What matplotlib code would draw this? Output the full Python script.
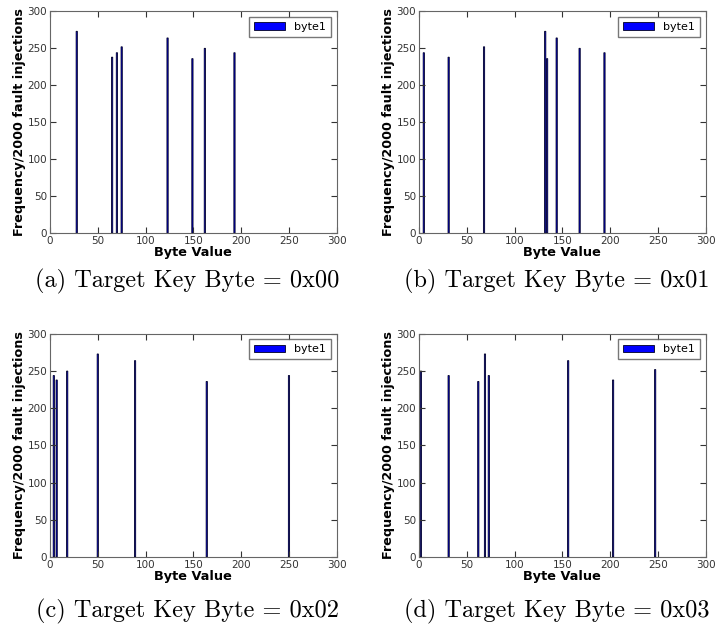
import matplotlib
matplotlib.use('Agg')
import matplotlib.pyplot as plt

# byte values and counts for each target key byte
a_x = [28, 65, 70, 75, 123, 149, 162, 193]
a_y = [273, 238, 244, 252, 264, 236, 250, 244]

b_x = [5, 31, 68, 132, 134, 144, 168, 194]
b_y = [244, 238, 252, 273, 236, 264, 250, 244]

c_x = [0, 4, 7, 18, 50, 89, 164, 250]
c_y = [252, 244, 238, 250, 273, 264, 236, 244]

d_x = [2, 31, 62, 69, 73, 156, 203, 247]
d_y = [250, 244, 236, 273, 244, 264, 238, 252]

captions = ['(a) Target Key Byte = 0x00', '(b) Target Key Byte = 0x01',
            '(c) Target Key Byte = 0x02', '(d) Target Key Byte = 0x03']
ticks = [0, 50, 100, 150, 200, 250, 300]

fig = plt.figure(figsize=(7.17, 6.3), dpi=100)

# axes boxes in figure fractions
boxes = [[0.0697, 0.630, 0.400, 0.352],
         [0.5844, 0.630, 0.400, 0.352],
         [0.0697, 0.116, 0.400, 0.354],
         [0.5844, 0.116, 0.400, 0.354]]
cap_pos = [(0.261, 0.554), (0.777, 0.554), (0.261, 0.030), (0.777, 0.030)]

for data, box, cap, cp in zip([(a_x, a_y), (b_x, b_y), (c_x, c_y), (d_x, d_y)],
                              boxes, captions, cap_pos):
    ax = fig.add_axes(box)
    bars = ax.bar(data[0], data[1], width=1.3, color='b', edgecolor='#000022',
                  linewidth=0.6, label='byte1', align='center')
    for b in bars:
        b.set_snap(False)
    ax.set_xlim(0, 300)
    ax.set_ylim(0, 300)
    ax.set_xticks(ticks)
    ax.set_yticks(ticks)
    ax.tick_params(direction='in', top=True, right=True, length=4,
                   labelsize=7.5, colors='#333333', pad=2)
    for s in ax.spines.values():
        s.set_color('#666666')
    ax.set_xlabel('Byte Value', fontsize=9.3, fontweight='bold', labelpad=0)
    ax.set_ylabel('Frequency/2000 fault injections', fontsize=9.2,
                  fontweight='bold', labelpad=1)
    leg = ax.legend(loc='upper right', fontsize=8, fancybox=False,
                    handlelength=2.8, borderpad=0.45)
    leg.get_frame().set_edgecolor('#555555')
    fig.text(cp[0], cp[1], cap, ha='center', va='center',
             fontsize=17.5, family='cmr10')

fig.savefig('out.png', dpi=100, facecolor='white')
